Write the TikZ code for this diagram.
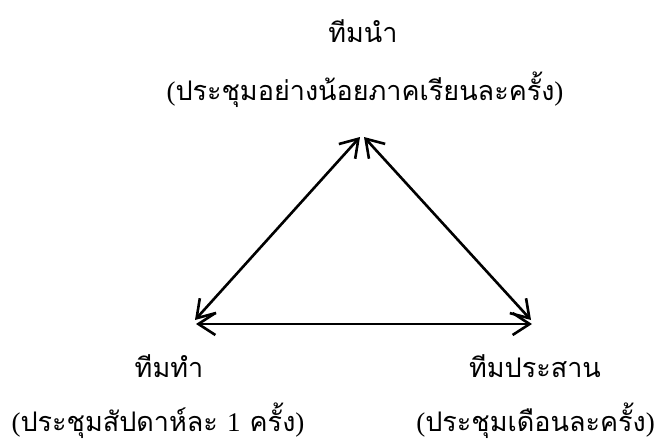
\documentclass[tikz,border=0pt]{standalone}
\usepackage{fontspec}
\setmainfont{Liberation Serif}
\newfontfamily\thaifont[Script=Thai]{Loma}
\newcommand{\Lp}{{\rmfamily(}}
\newcommand{\Rp}{{\rmfamily)}}
\usetikzlibrary{arrows.meta}
\tikzset{
  lbl/.style={inner sep=0pt, anchor=base, font=\fontsize{27}{32}\selectfont\thaifont},
  link/.style={line width=2.6pt, {Straight Barb[length=17pt,width=22pt,line width=2.6pt]}-{Straight Barb[length=17pt,width=22pt,line width=2.6pt]}}
}
\begin{document}
\begin{tikzpicture}[x=1pt,y=-1pt]
\useasboundingbox (0,0) rectangle (666,444);
\node[lbl] (lead) at (363,43) {ทีมนำ};
\node[lbl] (leadm) at (365,100) {\Lp ประชุมอย่างน้อยภาคเรียนละครั้ง\Rp};
\node[lbl] (do) at (169,377) {ทีมทำ};
\node[lbl] (dom) at (158,431) {\Lp ประชุมสัปดาห์ละ {\rmfamily 1} ครั้ง\Rp};
\node[lbl] (co) at (535,377) {ทีมประสาน};
\node[lbl, anchor=base east] (com) at (655,431) {\Lp ประชุมเดือนละครั้ง\Rp};
\coordinate (tl) at (360,137);
\coordinate (tr) at (364,137);
\coordinate (bl) at (195,320);
\coordinate (br) at (531,320);
\coordinate (hl) at (196,324);
\coordinate (hr) at (532,324);
\draw[link] (bl) -- (tl);
\draw[link] (tr) -- (br);
\draw[link] (hl) -- (hr);
\end{tikzpicture}
\end{document}
